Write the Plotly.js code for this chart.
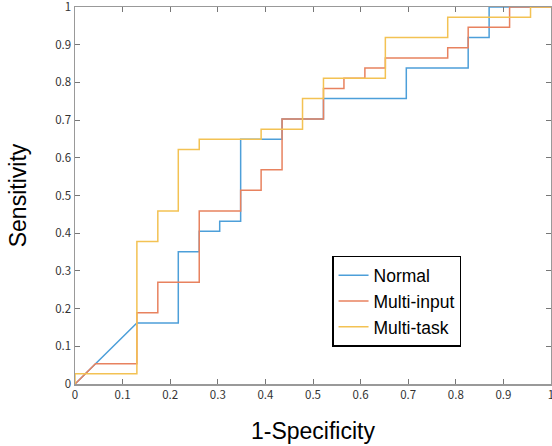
<!DOCTYPE html>
<html>
<head>
<meta charset="utf-8">
<script src="https://cdn.plot.ly/plotly-3.0.1.min.js"></script>
<style>html,body{margin:0;padding:0;background:#fff;}#chart{width:552px;height:446px;}</style>
</head>
<body>
<div id="chart"></div>
<script>
const seriesNames = ["Normal", "Multi-input", "Multi-task"];
const normalX = [0, 0.130, 0.217, 0.217, 0.261, 0.261, 0.304, 0.304, 0.348, 0.348, 0.435, 0.435, 0.522, 0.522, 0.696, 0.696, 0.826, 0.826, 0.870, 0.870, 1];
const normalY = [0, 0.162, 0.162, 0.351, 0.351, 0.405, 0.405, 0.432, 0.432, 0.649, 0.649, 0.703, 0.703, 0.757, 0.757, 0.838, 0.838, 0.919, 0.919, 1, 1];
const multiInputX = [0, 0.043, 0.130, 0.130, 0.174, 0.174, 0.261, 0.261, 0.348, 0.348, 0.391, 0.391, 0.435, 0.435, 0.522, 0.522, 0.565, 0.565, 0.609, 0.609, 0.652, 0.652, 0.783, 0.783, 0.826, 0.826, 0.913, 0.913, 1];
const multiInputY = [0, 0.054, 0.054, 0.189, 0.189, 0.270, 0.270, 0.459, 0.459, 0.514, 0.514, 0.568, 0.568, 0.703, 0.703, 0.784, 0.784, 0.811, 0.811, 0.838, 0.838, 0.865, 0.865, 0.892, 0.892, 0.946, 0.946, 1, 1];
const multiTaskX = [0, 0, 0.130, 0.130, 0.174, 0.174, 0.217, 0.217, 0.261, 0.261, 0.391, 0.391, 0.478, 0.478, 0.522, 0.522, 0.652, 0.652, 0.783, 0.783, 0.957, 0.957, 1];
const multiTaskY = [0, 0.027, 0.027, 0.378, 0.378, 0.459, 0.459, 0.622, 0.622, 0.649, 0.649, 0.676, 0.676, 0.757, 0.757, 0.811, 0.811, 0.919, 0.919, 0.973, 0.973, 1, 1];
const tickVals = [0, 0.1, 0.2, 0.3, 0.4, 0.5, 0.6, 0.7, 0.8, 0.9, 1];
const tickText = ["0", "0.1", "0.2", "0.3", "0.4", "0.5", "0.6", "0.7", "0.8", "0.9", "1"];
const colors = ["#4d9fd9", "#e8825f", "#f3c253"];

const xs = [normalX, multiInputX, multiTaskX];
const ys = [normalY, multiInputY, multiTaskY];
const traces = seriesNames.map((n, i) => ({
  x: xs[i], y: ys[i], name: n, type: 'scatter', mode: 'lines',
  line: {color: colors[i], width: 1.5}
}));

const tickFont = {family: '"Noto Sans CJK JP", "DejaVu Sans", sans-serif', size: 11.5, color: '#333'};
const axisCommon = {
  range: [0, 1], tickvals: tickVals, ticktext: tickText, ticks: 'inside', ticklen: 5,
  tickcolor: '#777', tickwidth: 1, showline: true, linecolor: '#999', linewidth: 1.5,
  mirror: 'ticks', showgrid: false, zeroline: false, tickfont: tickFont, fixedrange: true,
  ticklabeloverflow: 'allow'
};
const titleFont = {family: 'Liberation Sans, Arial, sans-serif', size: 23, color: '#000'};
const layout = {
  width: 552, height: 446,
  margin: {l: 75, r: 1, t: 7, b: 62},
  paper_bgcolor: '#fff', plot_bgcolor: '#fff',
  showlegend: true,
  legend: {x: 0.54, y: 0.34, xanchor: 'left', yanchor: 'top', bgcolor: '#fff',
    bordercolor: '#000', borderwidth: 1.5,
    font: {family: 'Liberation Sans, Arial, sans-serif', size: 17.5, color: '#000'},
    tracegroupgap: 0},
  xaxis: Object.assign({}, axisCommon, {
    title: {text: '1-Specificity', font: titleFont, standoff: 21}
  }),
  yaxis: Object.assign({}, axisCommon, {
    title: {text: 'Sensitivity', font: titleFont, standoff: 22}
  })
};
Plotly.newPlot('chart', traces, layout, {displayModeBar: false, staticPlot: true});
</script>
</body>
</html>
